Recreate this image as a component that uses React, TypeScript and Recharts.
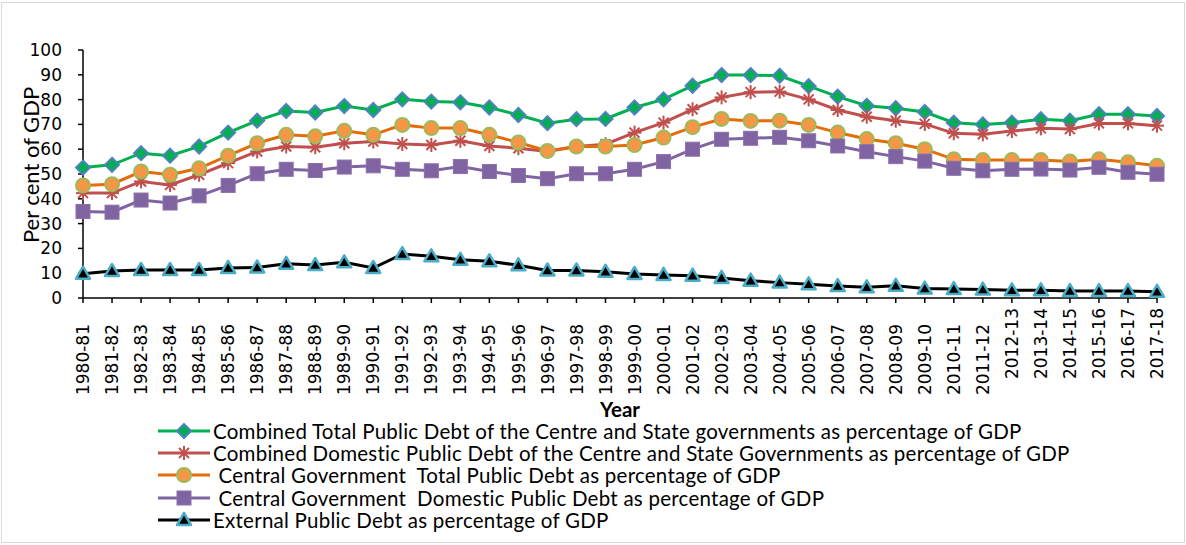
import React from 'react';
import { LineChart, Line, XAxis, YAxis, Legend } from 'recharts';

const years = [
  '1980-81', '1981-82', '1982-83', '1983-84', '1984-85', '1985-86', '1986-87', '1987-88',
  '1988-89', '1989-90', '1990-91', '1991-92', '1992-93', '1993-94', '1994-95', '1995-96',
  '1996-97', '1997-98', '1998-99', '1999-00', '2000-01', '2001-02', '2002-03', '2003-04',
  '2004-05', '2005-06', '2006-07', '2007-08', '2008-09', '2009-10', '2010-11', '2011-12',
  '2012-13', '2013-14', '2014-15', '2015-16', '2016-17', '2017-18',
];

const combinedTotal = [
  52.6, 53.7, 58.4, 57.4, 61.1, 66.7, 71.5, 75.4, 74.8, 77.4, 75.8, 80.1, 79.2, 78.9, 76.8, 73.8,
  70.5, 72.1, 72.2, 76.8, 80.1, 85.6, 89.9, 89.9, 89.6, 85.4, 81.2, 77.5, 76.5, 75.0, 70.7, 70.0,
  70.7, 72.1, 71.5, 74.1, 74.1, 73.4,
];

const combinedDomestic = [
  42.3, 42.3, 47.0, 45.6, 49.7, 54.4, 59.1, 61.1, 60.8, 62.4, 63.1, 62.1, 61.7, 63.4, 61.3, 60.4,
  59.1, 61.1, 62.0, 66.7, 70.7, 76.1, 80.9, 83.0, 83.2, 80.1, 75.8, 73.1, 71.5, 70.2, 66.4, 66.0,
  67.3, 68.4, 68.1, 70.4, 70.4, 69.5,
];

const centralTotal = [
  45.4, 45.9, 51.0, 49.7, 52.3, 57.4, 62.4, 65.8, 65.2, 67.4, 65.8, 69.8, 68.5, 68.5, 65.8, 62.7,
  59.3, 61.1, 61.1, 61.7, 64.7, 68.9, 72.2, 71.4, 71.5, 69.8, 66.7, 64.1, 62.4, 60.0, 55.9, 55.6,
  55.6, 55.6, 55.0, 55.9, 54.7, 53.3,
];

const centralDomestic = [
  34.9, 34.6, 39.5, 38.3, 41.2, 45.4, 50.1, 51.9, 51.4, 52.8, 53.3, 51.9, 51.3, 53.0, 51.0, 49.4,
  48.1, 50.1, 50.1, 51.9, 55.0, 60.0, 64.0, 64.4, 64.8, 63.4, 61.3, 59.0, 57.0, 55.2, 52.3, 51.3,
  51.9, 52.0, 51.6, 52.7, 50.7, 49.9,
];

const externalDebt = [
  9.8, 10.9, 11.3, 11.3, 11.3, 12.1, 12.3, 13.8, 13.3, 14.4, 12.1, 17.7, 16.8, 15.4, 14.8, 13.2,
  11.1, 11.1, 10.6, 9.7, 9.3, 9.0, 8.1, 7.0, 6.2, 5.5, 4.8, 4.3, 4.9, 3.8, 3.6, 3.4,
  3.1, 3.1, 2.8, 2.8, 2.8, 2.5,
];

const yTicks = [0, 10, 20, 30, 40, 50, 60, 70, 80, 90, 100];

const seriesKeys = ['combinedTotal', 'combinedDomestic', 'centralTotal', 'centralDomestic', 'externalDebt'] as const;

const seriesNames = {
  combinedTotal: 'Combined Total Public Debt of the Centre and State governments as percentage of GDP',
  combinedDomestic: 'Combined Domestic Public Debt of the Centre and State Governments as percentage of GDP',
  centralTotal: ' Central Government  Total Public Debt as percentage of GDP',
  centralDomestic: ' Central Government  Domestic Public Debt as percentage of GDP',
  externalDebt: 'External Public Debt as percentage of GDP',
};

const data = years.map((year, i) => ({
  year,
  combinedTotal: combinedTotal[i],
  combinedDomestic: combinedDomestic[i],
  centralTotal: centralTotal[i],
  centralDomestic: centralDomestic[i],
  externalDebt: externalDebt[i],
}));

const COLORS = {
  combinedTotal: '#00B050',
  combinedDomestic: '#C0504D',
  centralTotal: '#E46C0A',
  centralDomestic: '#8064A2',
  externalDebt: '#000000',
};

const Diamond = ({ cx, cy }: any) => (
  <polygon
    points={`${cx},${cy - 7} ${cx + 7},${cy} ${cx},${cy + 7} ${cx - 7},${cy}`}
    fill="#00B050"
    stroke="#4F81BD"
    strokeWidth={2}
  />
);

const Star = ({ cx, cy }: any) => (
  <g stroke="#C0504D" strokeWidth={2}>
    <line x1={cx - 5} y1={cy - 5} x2={cx + 5} y2={cy + 5} />
    <line x1={cx + 5} y1={cy - 5} x2={cx - 5} y2={cy + 5} />
    <line x1={cx} y1={cy - 7} x2={cx} y2={cy + 7} />
    <line x1={cx - 7} y1={cy} x2={cx + 7} y2={cy} />
  </g>
);

const Circle = ({ cx, cy }: any) => (
  <circle cx={cx} cy={cy} r={7} fill="#F79646" stroke="#9BBB59" strokeWidth={2} />
);

const Square = ({ cx, cy }: any) => (
  <rect x={cx - 7} y={cy - 7} width={14} height={14} fill="#8064A2" stroke="#8A70AC" strokeWidth={1} />
);

const Triangle = ({ cx, cy }: any) => (
  <polygon
    points={`${cx},${cy - 7} ${cx + 7},${cy + 5} ${cx - 7},${cy + 5}`}
    fill="#000000"
    stroke="#4BACC6"
    strokeWidth={2.5}
    strokeLinejoin="round"
  />
);

const MARKERS: Record<string, any> = {
  combinedTotal: Diamond,
  combinedDomestic: Star,
  centralTotal: Circle,
  centralDomestic: Square,
  externalDebt: Triangle,
};

const makeDot = (key: string) => (props: any) => {
  const M = MARKERS[key];
  if (props.cx == null || props.cy == null) return <g key={`${key}-${props.index}`} />;
  return <M key={`${key}-${props.index}`} cx={props.cx} cy={props.cy} />;
};

const XTick = (props: any) => {
  const { x, y, payload, index } = props;
  const gap = index >= 32 ? 5 : 21;
  const ty = y + gap;
  return (
    <text
      x={x}
      y={ty}
      dy="0.36em"
      transform={`rotate(-90 ${x} ${ty})`}
      textAnchor="end"
      fontFamily="DejaVu Sans"
      fontSize={17}
      fill="#000"
    >
      {payload.value}
    </text>
  );
};

const renderLegend = (props: any) => {
  const payload = [...(props.payload || [])].sort(
    (a: any, b: any) => seriesKeys.indexOf(a.dataKey) - seriesKeys.indexOf(b.dataKey)
  );
  return (
    <div style={{ fontFamily: 'Lato', fontSize: 20.5, letterSpacing: 0.25, color: '#000' }}>
      {payload.map((entry: any, i: number) => {
        const key = entry.dataKey as string;
        const M = MARKERS[key];
        return (
          <div key={i} style={{ display: 'flex', alignItems: 'center', height: 22.2, whiteSpace: 'pre' }}>
            <svg width={55} height={20} style={{ flex: 'none' }}>
              <line x1={0} y1={10} x2={52} y2={10} stroke={COLORS[key as keyof typeof COLORS]} strokeWidth={3} />
              <M cx={26} cy={10} />
            </svg>
            <span style={{ lineHeight: '22px' }}>{entry.value}</span>
          </div>
        );
      })}
    </div>
  );
};

const YLabel = ({ viewBox }: any) => {
  const x = viewBox.x + 30;
  const y = viewBox.y + viewBox.height / 2 - 9;
  return (
    <text
      x={x}
      y={y}
      transform={`rotate(-90 ${x} ${y})`}
      textAnchor="middle"
      dominantBaseline="central"
      fontFamily="Lato"
      fontSize={22}
      fill="#000"
    >
      Per cent of GDP
    </text>
  );
};

export default function App() {
  return (
    <div
      style={{
        position: 'absolute',
        left: 0,
        top: 0,
        width: 1186,
        height: 545,
        background: '#fff',
      }}
    >
      <div
        style={{
          position: 'absolute',
          left: 1,
          top: 2,
          width: 1184,
          height: 541,
          boxSizing: 'border-box',
          border: '1px solid #d9d9d9',
          pointerEvents: 'none',
        }}
      />
      <LineChart
        width={1186}
        height={545}
        data={data}
        margin={{ top: 50, right: 29, bottom: 127, left: 0 }}
      >
        <XAxis
          dataKey="year"
          interval={0}
          height={120}
          tick={<XTick />}
          tickSize={5}
          tickMargin={0}
          axisLine={{ stroke: '#000', strokeWidth: 1.5 }}
          tickLine={{ stroke: '#000', strokeWidth: 1.5 }}
          label={{
            value: 'Year',
            position: 'insideBottom',
            offset: 1,
            style: { fontFamily: 'Lato', fontWeight: 700, fontSize: 20.5, fill: '#000' },
          }}
        />
        <YAxis
          width={83}
          domain={[0, 100]}
          ticks={yTicks}
          interval={0}
          tickSize={5}
          tickMargin={16}
          axisLine={{ stroke: '#000', strokeWidth: 1.5 }}
          tickLine={{ stroke: '#000', strokeWidth: 1.5 }}
          tick={{ fontFamily: 'DejaVu Sans', fontSize: 17, fill: '#000' }}
          label={<YLabel />}
        />
        <Legend
          layout="vertical"
          verticalAlign="middle"
          align="center"
          itemSorter={null as any}
          content={renderLegend}
          wrapperStyle={{ left: 158, top: 420, width: 1000 }}
        />
        {seriesKeys.map((k) => (
          <Line
            key={k}
            type="linear"
            dataKey={k}
            name={seriesNames[k]}
            stroke={COLORS[k]}
            strokeWidth={3}
            dot={makeDot(k)}
            activeDot={false}
            isAnimationActive={false}
          />
        ))}
      </LineChart>
    </div>
  );
}
